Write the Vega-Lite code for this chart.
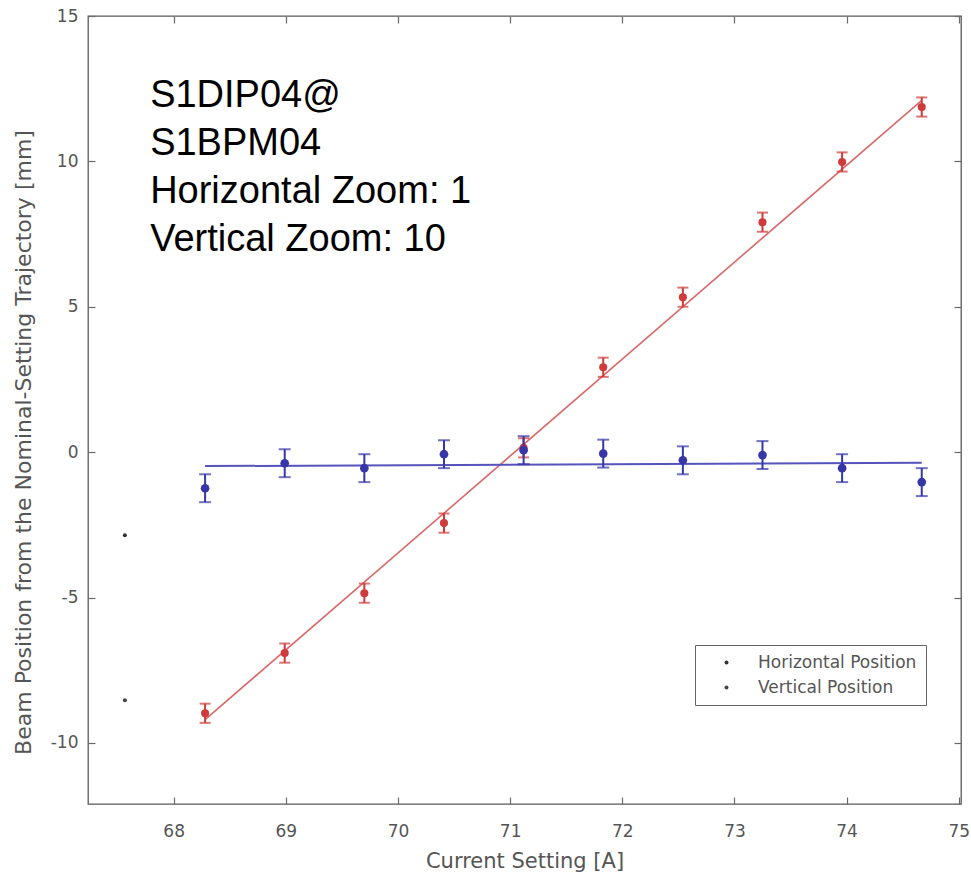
{
  "$schema": "https://vega.github.io/schema/vega-lite/v6.json",
  "width": 873,
  "height": 788,
  "autosize": {"type": "none"},
  "padding": {"left": 88, "top": 16, "right": 10, "bottom": 70},
  "background": "white",
  "config": {
    "view": {"stroke": "#5a5a5a", "strokeWidth": 1.3},
    "axis": {
      "grid": false,
      "labelFont": "DejaVu Sans",
      "titleFont": "DejaVu Sans",
      "titleFontWeight": "normal",
      "labelColor": "#555555",
      "titleColor": "#555555",
      "domainColor": "#5a5a5a",
      "tickColor": "#6a6a6a",
      "tickWidth": 1.2
    }
  },
  "datasets": {
    "pts": [
      {"series": "Vertical Position", "current": 68.28, "pos": -8.98, "err": 0.33},
      {"series": "Vertical Position", "current": 68.99, "pos": -6.91, "err": 0.33},
      {"series": "Vertical Position", "current": 69.70, "pos": -4.85, "err": 0.33},
      {"series": "Vertical Position", "current": 70.41, "pos": -2.44, "err": 0.33},
      {"series": "Vertical Position", "current": 71.12, "pos": 0.15, "err": 0.33},
      {"series": "Vertical Position", "current": 71.83, "pos": 2.92, "err": 0.33},
      {"series": "Vertical Position", "current": 72.54, "pos": 5.33, "err": 0.33},
      {"series": "Vertical Position", "current": 73.25, "pos": 7.91, "err": 0.33},
      {"series": "Vertical Position", "current": 73.96, "pos": 9.98, "err": 0.33},
      {"series": "Vertical Position", "current": 74.67, "pos": 11.87, "err": 0.33},
      {"series": "Horizontal Position", "current": 68.28, "pos": -1.24, "err": 0.48},
      {"series": "Horizontal Position", "current": 68.99, "pos": -0.38, "err": 0.48},
      {"series": "Horizontal Position", "current": 69.70, "pos": -0.55, "err": 0.48},
      {"series": "Horizontal Position", "current": 70.41, "pos": -0.07, "err": 0.48},
      {"series": "Horizontal Position", "current": 71.12, "pos": 0.07, "err": 0.48},
      {"series": "Horizontal Position", "current": 71.83, "pos": -0.05, "err": 0.48},
      {"series": "Horizontal Position", "current": 72.54, "pos": -0.28, "err": 0.48},
      {"series": "Horizontal Position", "current": 73.25, "pos": -0.1, "err": 0.48},
      {"series": "Horizontal Position", "current": 73.96, "pos": -0.55, "err": 0.48},
      {"series": "Horizontal Position", "current": 74.67, "pos": -1.03, "err": 0.48}
    ],
    "fit": [
      {"series": "Vertical Position", "current": 68.28, "pos": -9.2},
      {"series": "Vertical Position", "current": 74.67, "pos": 12.1},
      {"series": "Horizontal Position", "current": 68.28, "pos": -0.48},
      {"series": "Horizontal Position", "current": 74.67, "pos": -0.36}
    ],
    "stray": [
      {"label": "Horizontal Position", "current": 67.565, "pos": -2.86},
      {"label": "Vertical Position", "current": 67.565, "pos": -8.53}
    ],
    "notes": [
      {"note": "S1DIP04@", "current": 67.79, "pos": 11.86},
      {"note": "S1BPM04", "current": 67.79, "pos": 10.23},
      {"note": "Horizontal Zoom: 1", "current": 67.79, "pos": 8.57},
      {"note": "Vertical Zoom: 10", "current": 67.79, "pos": 6.91}
    ]
  },
  "layer": [
    {
      "data": {"name": "fit"},
      "transform": [{"filter": "datum.series === 'Vertical Position'"}],
      "mark": {"type": "line", "color": "#d86a6a", "strokeWidth": 1.6},
      "encoding": {
        "x": {"field": "current", "type": "quantitative", "scale": {"domain": [67.236, 75.02], "nice": false, "zero": false},
          "axis": {"orient": "bottom", "offset": -7, "domain": false, "title": "Current Setting [A]", "values": [68, 69, 70, 71, 72, 73, 74, 75], "tickSize": 7, "labelPadding": 19, "labelFontSize": 17, "titleFontSize": 21, "titleBaseline": "alphabetic", "titleY": 70}},
        "y": {"field": "pos", "type": "quantitative", "scale": {"domain": [-12.1, 15], "nice": false, "zero": false},
          "axis": {"orient": "left", "offset": -7, "domain": false, "title": "Beam Position from the Nominal-Setting Trajectory [mm]", "values": [-10, -5, 0, 5, 10, 15], "labelExpr": "replace(datum.label, '\u2212', '-')", "tickSize": 7, "labelPadding": 10, "labelFontSize": 17, "titleFontSize": 22, "titleX": -72, "titleY": 426, "titleBaseline": "middle", "titleAngle": -90}}
      }
    },
    {
      "data": {"name": "fit"},
      "transform": [{"filter": "datum.series === 'Horizontal Position'"}],
      "mark": {"type": "line", "color": "#5454bc", "strokeWidth": 2},
      "encoding": {
        "x": {"field": "current", "type": "quantitative", "scale": {"domain": [67.236, 75.02], "nice": false, "zero": false},
          "axis": {"orient": "top", "offset": -7, "title": null, "labels": false, "domain": false, "values": [68, 69, 70, 71, 72, 73, 74, 75], "tickSize": 7}},
        "y": {"field": "pos", "type": "quantitative", "scale": {"domain": [-12.1, 15], "nice": false, "zero": false},
          "axis": {"orient": "right", "offset": -7, "title": null, "labels": false, "domain": false, "values": [-10, -5, 0, 5, 10, 15], "tickSize": 7}}
      }
    },
    {
      "data": {"name": "pts"},
      "transform": [{"filter": "datum.series === 'Vertical Position'"}],
      "mark": {"type": "errorbar", "color": "#cf3a3a", "thickness": 2, "ticks": {"size": 11, "thickness": 2}},
      "encoding": {
        "x": {"field": "current", "type": "quantitative", "scale": {"domain": [67.236, 75.02], "nice": false, "zero": false}, "axis": null},
        "y": {"field": "pos", "type": "quantitative", "scale": {"domain": [-12.1, 15], "nice": false, "zero": false}, "axis": null},
        "yError": {"field": "err"}
      }
    },
    {
      "data": {"name": "pts"},
      "transform": [{"filter": "datum.series === 'Vertical Position'"}],
      "mark": {"type": "point", "filled": true, "shape": "circle", "size": 65, "color": "#cf3a3a", "opacity": 1},
      "encoding": {
        "x": {"field": "current", "type": "quantitative", "scale": {"domain": [67.236, 75.02], "nice": false, "zero": false}, "axis": null},
        "y": {"field": "pos", "type": "quantitative", "scale": {"domain": [-12.1, 15], "nice": false, "zero": false}, "axis": null}
      }
    },
    {
      "data": {"name": "pts"},
      "transform": [{"filter": "datum.series === 'Horizontal Position'"}],
      "mark": {"type": "errorbar", "color": "#3636a8", "thickness": 2, "ticks": {"size": 12, "thickness": 2}},
      "encoding": {
        "x": {"field": "current", "type": "quantitative", "scale": {"domain": [67.236, 75.02], "nice": false, "zero": false}, "axis": null},
        "y": {"field": "pos", "type": "quantitative", "scale": {"domain": [-12.1, 15], "nice": false, "zero": false}, "axis": null},
        "yError": {"field": "err"}
      }
    },
    {
      "data": {"name": "pts"},
      "transform": [{"filter": "datum.series === 'Horizontal Position'"}],
      "mark": {"type": "point", "filled": true, "shape": "circle", "size": 75, "color": "#3636a8", "opacity": 1},
      "encoding": {
        "x": {"field": "current", "type": "quantitative", "scale": {"domain": [67.236, 75.02], "nice": false, "zero": false}, "axis": null},
        "y": {"field": "pos", "type": "quantitative", "scale": {"domain": [-12.1, 15], "nice": false, "zero": false}, "axis": null}
      }
    },
    {
      "data": {"name": "stray"},
      "mark": {"type": "point", "filled": true, "shape": "circle", "size": 16, "opacity": 1},
      "encoding": {
        "x": {"field": "current", "type": "quantitative", "scale": {"domain": [67.236, 75.02], "nice": false, "zero": false}, "axis": null},
        "y": {"field": "pos", "type": "quantitative", "scale": {"domain": [-12.1, 15], "nice": false, "zero": false}, "axis": null},
        "color": {
          "field": "label", "type": "nominal",
          "scale": {"domain": ["Horizontal Position", "Vertical Position"], "range": ["#333333", "#444444"]},
          "legend": {"orient": "none", "legendX": 607, "legendY": 629, "title": null, "strokeColor": "#666666", "fillColor": "white", "padding": 9, "labelFont": "DejaVu Sans", "labelFontSize": 17, "labelLimit": 400, "labelColor": "#555555", "symbolSize": 16, "symbolType": "circle", "symbolOffset": 14, "labelOffset": 23, "rowPadding": 7, "symbolStrokeWidth": 0}
        }
      }
    },
    {
      "data": {"name": "notes"},
      "mark": {"type": "text", "align": "left", "baseline": "alphabetic", "font": "Liberation Sans", "fontSize": 38, "color": "#000000"},
      "encoding": {
        "x": {"field": "current", "type": "quantitative", "scale": {"domain": [67.236, 75.02], "nice": false, "zero": false}, "axis": null},
        "y": {"field": "pos", "type": "quantitative", "scale": {"domain": [-12.1, 15], "nice": false, "zero": false}, "axis": null},
        "text": {"field": "note"}
      }
    }
  ],
  "resolve": {"axis": {"x": "independent", "y": "independent"}}
}
